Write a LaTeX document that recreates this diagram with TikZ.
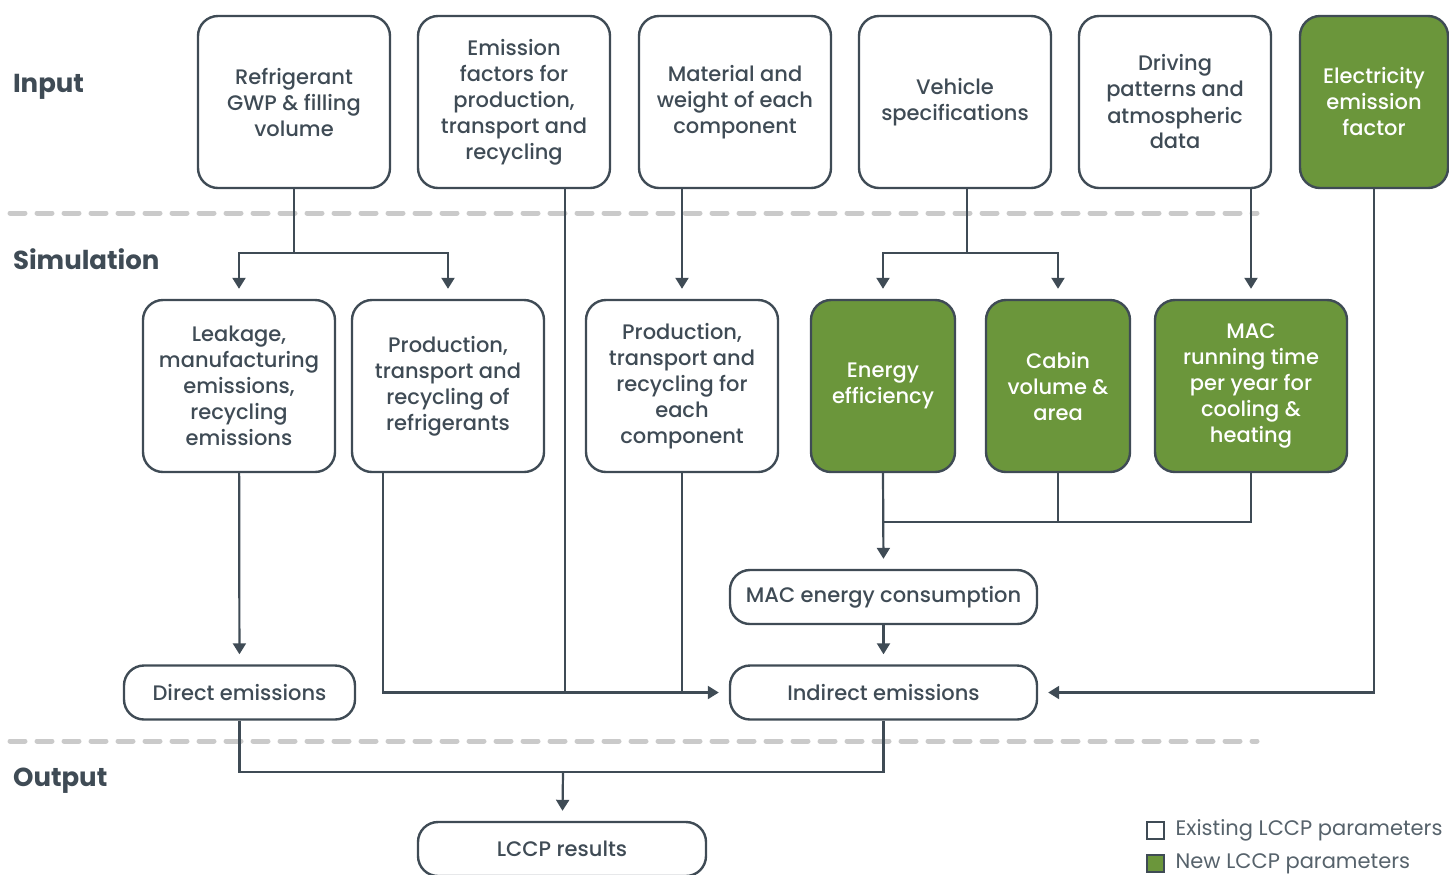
\documentclass[tikz,border=0pt]{standalone}
\usepackage{fontspec}
\setmainfont{Poppins}
\newfontfamily\medfont{Poppins Medium}
\usetikzlibrary{arrows.meta}
\definecolor{ink}{HTML}{3F4B55}
\definecolor{leaf}{HTML}{6B963B}
\definecolor{dashgray}{HTML}{CACACA}
\definecolor{keygray}{HTML}{56626B}
\tikzset{
  param/.style={draw=ink, line width=1.2pt, rounded corners=10pt, align=center,
    text=ink, inner sep=2pt, font=\medfont\fontsize{10.5}{13}\selectfont},
  tallbox/.style={param, minimum width=96pt, minimum height=86pt},
  newbox/.style={param, fill=leaf, text=white, minimum width=72pt, minimum height=86pt},
  flatbox/.style={param, minimum height=27pt},
  line/.style={draw=ink, line width=1.1pt},
  arr/.style={line, -{Triangle[width=6.5pt,length=5.5pt]}, shorten >=5pt},
  stageline/.style={draw=dashgray, line width=2.5pt, line cap=round, dash pattern=on 7.5pt off 6pt},
  stage/.style={anchor=west, text=ink, font=\bfseries\fontsize{13}{15}\selectfont},
  keytext/.style={anchor=west, text=keygray, font=\fontsize{10.5}{12}\selectfont}
}
\begin{document}
\begin{tikzpicture}[x=0.5pt, y=-0.5pt]
  \useasboundingbox (0,0) rectangle (1449,874);
  % stages
  \draw[stageline] (10,213) -- (1257,213);
  \draw[stageline] (10,741) -- (1257,741);
  \node[stage] (input) at (6,87) {Input};
  \node[stage] (simul) at (6,259) {Simulation};
  \node[stage] (output) at (6,781) {Output};

  % input row
  \node[tallbox] (refr) at (294,102) {Refrigerant\\GWP \& filling\\volume};
  \node[tallbox] (emis) at (514,102) {Emission\\factors for\\production,\\transport and\\recycling};
  \node[tallbox] (mat) at (735,102) {Material and\\weight of each\\component};
  \node[tallbox] (veh) at (955,102) {Vehicle\\specifications};
  \node[tallbox] (drive) at (1175,102) {Driving\\patterns and\\atmospheric\\data};
  \node[newbox, minimum width=74pt] (elec) at (1374,102) {Electricity\\emission\\factor};

  % simulation row
  \node[tallbox] (leak) at (239,386) {Leakage,\\manufacturing\\emissions,\\recycling\\emissions};
  \node[tallbox] (prodr) at (448,386) {Production,\\transport and\\recycling of\\refrigerants};
  \node[tallbox] (prodc) at (682,386) {Production,\\transport and\\recycling for\\each\\component};
  \node[newbox] (energy) at (883,386) {Energy\\efficiency};
  \node[newbox] (cabin) at (1058,386) {Cabin\\volume \&\\area};
  \node[newbox, minimum width=96pt] (mac) at (1251,386) {MAC\\running time\\per year for\\cooling \&\\heating};

  \node[flatbox, minimum width=153.5pt] (macen) at (883.5,597) {MAC energy consumption};
  \node[flatbox, minimum width=153.5pt] (indir) at (883.5,692.5) {Indirect emissions};
  \node[flatbox, minimum width=115.5pt] (direct) at (239.5,692.5) {Direct emissions};
  \node[flatbox, minimum width=144pt] (lccp) at (562,849) {LCCP results};

  % connectors
  \draw[line] (refr.south) -- (294,253) coordinate (j1);
  \draw[arr] (j1) -| (leak);
  \draw[arr] (j1) -| (prodr);
  \draw[arr] (mat.south -| prodc.north) -- (prodc.north);
  \draw[line] ([xshift=6pt]veh.south) -- (967,253) coordinate (j2);
  \draw[arr] (j2) -| (energy);
  \draw[arr] (j2) -| (cabin);
  \draw[arr] (drive.south -| mac.north) -- (mac.north);

  \draw[arr] (leak) -- (direct);
  \draw[arr] ([xshift=-32.5pt]prodr.south) |- (indir.west);
  \draw[line] ([xshift=25.5pt]emis.south) -- ([xshift=25.5pt]emis.south |- indir.west);
  \draw[line] (prodc.south) -- (prodc.south |- indir.west);
  \draw[arr] (elec.south) |- (indir.east);

  \coordinate (j3) at (883,522);
  \draw[line] (mac.south) |- (j3);
  \draw[line] (cabin.south) -- (cabin.south |- j3);
  \draw[arr] (energy.south) -- (macen.north);
  \draw[arr] (macen) -- (indir);

  \coordinate (j4) at (563,772);
  \draw[line] (direct.south) |- (j4) -| (indir.south);
  \draw[arr] (j4) -- (lccp);

  % legend
  \node[draw=ink, line width=0.6pt, minimum size=8.5pt, inner sep=0pt] (oldkey) at (1155.5,830.5) {};
  \node[keytext] (oldtext) at ([xshift=2pt]oldkey.east) {Existing LCCP parameters};
  \node[draw=ink, fill=leaf, line width=0.6pt, minimum size=8.5pt, inner sep=0pt] (newkey) at (1155.5,863.5) {};
  \node[keytext] (newtext) at ([xshift=2pt]newkey.east) {New LCCP parameters};
\end{tikzpicture}
\end{document}
